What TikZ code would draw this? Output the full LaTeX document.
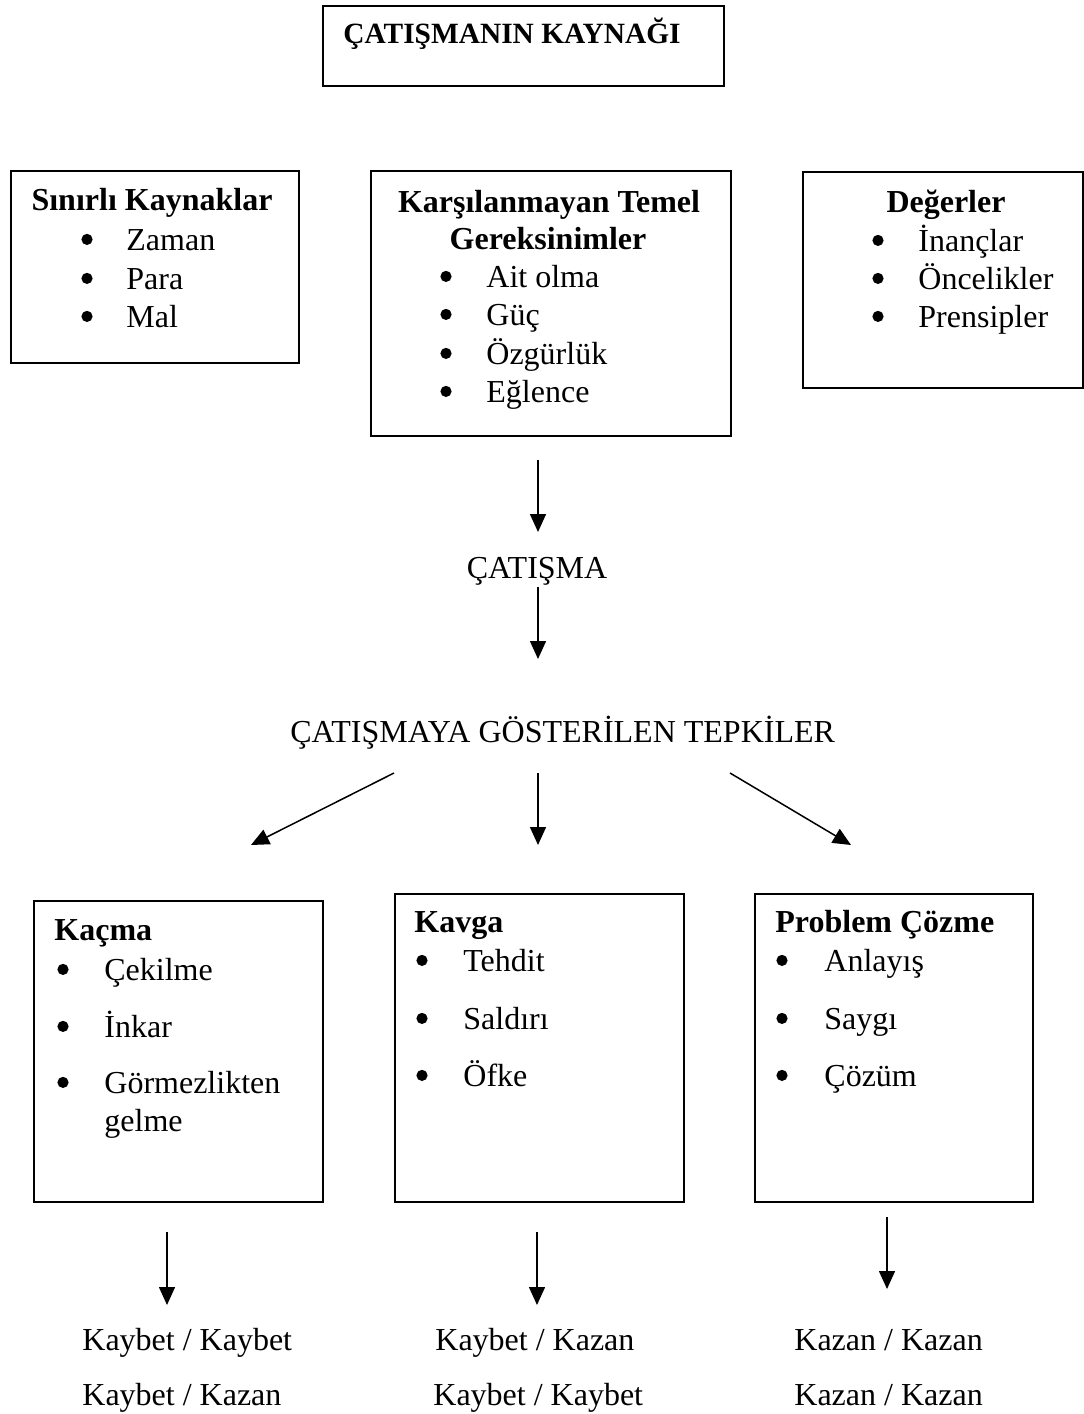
\documentclass[tikz,border=0pt]{standalone}
\usepackage{fontspec}
\setmainfont{Liberation Serif}
\usetikzlibrary{arrows.meta}
\begin{document}
\begin{tikzpicture}[x=0.5pt,y=-0.5pt,
  box/.style={draw,line width=1pt,rectangle,inner sep=0pt,anchor=north west},
  txt/.style={inner sep=0pt,anchor=base west,font=\fontsize{16}{19.5}\selectfont},
  hd/.style={inner sep=0pt,anchor=base west,font=\fontsize{16}{19.5}\selectfont\bfseries},
  hdc/.style={hd,anchor=base},
  bul/.style={circle,fill=black,inner sep=0pt,minimum size=5.6pt,yshift=5.3pt},
  arr/.style={line width=0.75pt,-{Triangle[length=9pt,width=8pt]}}
]
\useasboundingbox (0,0) rectangle (1083,1414);

% top box
\node[box,minimum width=200.5pt,minimum height=40pt] (top) at (322,5) {};
\node[hd,font=\fontsize{14.7}{17}\selectfont\bfseries] (toptxt) at (343,43) {ÇATIŞMANIN KAYNAĞI};

% source boxes
\node[box,minimum width=144pt,minimum height=96pt] (s1) at (10,170) {};
\node[hdc] (s1h) at (152,210) {Sınırlı Kaynaklar};
\node[bul] (s1b1) at (87,250) {}; \node[txt] (s1t1) at (126,250) {Zaman};
\node[bul] (s1b2) at (87,289) {}; \node[txt] (s1t2) at (126,289) {Para};
\node[bul] (s1b3) at (87,327) {}; \node[txt] (s1t3) at (126,327) {Mal};

\node[box,minimum width=180pt,minimum height=132.5pt] (s2) at (370,170) {};
\node[hdc] (s2h1) at (549,212) {Karşılanmayan Temel};
\node[hdc] (s2h2) at (548,249) {Gereksinimler};
\node[bul] (s2b1) at (446,287) {}; \node[txt] (s2t1) at (486,287) {Ait olma};
\node[bul] (s2b2) at (446,325) {}; \node[txt] (s2t2) at (486,325) {Güç};
\node[bul] (s2b3) at (446,364) {}; \node[txt] (s2t3) at (486,364) {Özgürlük};
\node[bul] (s2b4) at (446,402) {}; \node[txt] (s2t4) at (486,402) {Eğlence};

\node[box,minimum width=139.75pt,minimum height=108pt] (s3) at (802,171) {};
\node[hdc] (s3h) at (946,212) {Değerler};
\node[bul] (s3b1) at (878,251) {}; \node[txt] (s3t1) at (918,251) {İnançlar};
\node[bul] (s3b2) at (878,289) {}; \node[txt] (s3t2) at (918,289) {Öncelikler};
\node[bul] (s3b3) at (878,327) {}; \node[txt] (s3t3) at (918,327) {Prensipler};

% middle
\node[txt,anchor=base] (cat) at (537,578) {ÇATIŞMA};
\node[txt] (tep) at (290,742) {ÇATIŞMAYA GÖSTERİLEN TEPKİLER};

\coordinate (a1s) at (538,460); \coordinate (a1e) at (538,532);
\coordinate (a2s) at (538,587); \coordinate (a2e) at (538,659);
\draw[arr] (a1s) -- (a1e);
\draw[arr] (a2s) -- (a2e);

\coordinate (l1s) at (394,773); \coordinate (l1e) at (251,845);
\coordinate (m1s) at (538,773); \coordinate (m1e) at (538,845);
\coordinate (r1s) at (730,773); \coordinate (r1e) at (851,845);
\draw[arr] (l1s) -- (l1e);
\draw[arr] (m1s) -- (m1e);
\draw[arr] (r1s) -- (r1e);

% response boxes
\node[box,minimum width=144.5pt,minimum height=150.5pt] (k1) at (33,900) {};
\node[hd] (k1h) at (54,940) {Kaçma};
\node[bul] (k1b1) at (63,980) {}; \node[txt] (k1t1) at (104,980) {Çekilme};
\node[bul] (k1b2) at (63,1037) {}; \node[txt] (k1t2) at (104,1037) {İnkar};
\node[bul] (k1b3) at (63,1093) {}; \node[txt] (k1t3) at (104,1093) {Görmezlikten};
\node[txt] (k1t4) at (104,1131) {gelme};

\node[box,minimum width=144.5pt,minimum height=154pt] (k2) at (394,893) {};
\node[hd] (k2h) at (414,932) {Kavga};
\node[bul] (k2b1) at (422,971) {}; \node[txt] (k2t1) at (463,971) {Tehdit};
\node[bul] (k2b2) at (422,1029) {}; \node[txt] (k2t2) at (463,1029) {Saldırı};
\node[bul] (k2b3) at (422,1086) {}; \node[txt] (k2t3) at (463,1086) {Öfke};

\node[box,minimum width=139pt,minimum height=154pt] (k3) at (754,893) {};
\node[hd] (k3h) at (775,932) {Problem Çözme};
\node[bul] (k3b1) at (782,971) {}; \node[txt] (k3t1) at (824,971) {Anlayış};
\node[bul] (k3b2) at (782,1029) {}; \node[txt] (k3t2) at (824,1029) {Saygı};
\node[bul] (k3b3) at (782,1086) {}; \node[txt] (k3t3) at (824,1086) {Çözüm};

% outcome arrows
\coordinate (o1s) at (167,1232); \coordinate (o1e) at (167,1305);
\coordinate (o2s) at (537,1232); \coordinate (o2e) at (537,1305);
\coordinate (o3s) at (887,1217); \coordinate (o3e) at (887,1289);
\draw[arr] (o1s) -- (o1e);
\draw[arr] (o2s) -- (o2e);
\draw[arr] (o3s) -- (o3e);

% outcomes
\node[txt] (r11) at (82,1350) {Kaybet / Kaybet};
\node[txt] (r12) at (82,1405) {Kaybet / Kazan};
\node[txt] (r21) at (435,1350) {Kaybet / Kazan};
\node[txt] (r22) at (433,1405) {Kaybet / Kaybet};
\node[txt] (r31) at (794,1350) {Kazan / Kazan};
\node[txt] (r32) at (794,1405) {Kazan / Kazan};
\end{tikzpicture}
\end{document}
